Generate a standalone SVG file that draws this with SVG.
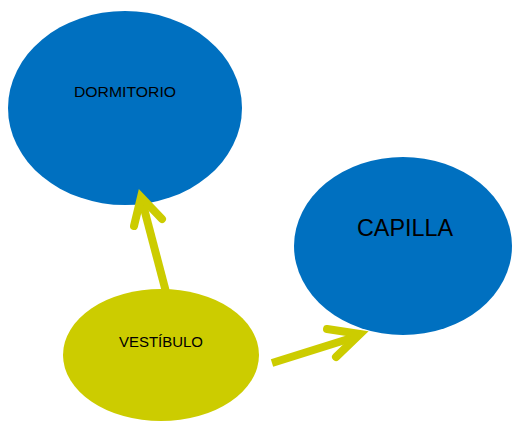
<svg xmlns="http://www.w3.org/2000/svg" width="512" height="421" viewBox="0 0 512 421">
<style>
.blue{fill:#0070C0}
.yel{fill:#CCCC00}
.lbl{font-family:"Liberation Sans",Arial,sans-serif;fill:#000;text-anchor:middle}
.arr{fill:none;stroke:#CCCC00;stroke-width:8}
</style>
<rect width="512" height="421" fill="#fff"/>
<g id="dormitorio">
<ellipse class="blue" cx="125" cy="108" rx="117" ry="97"/>
<text class="lbl" x="125" y="97" font-size="15" textLength="102" lengthAdjust="spacingAndGlyphs">DORMITORIO</text>
</g>
<g id="capilla">
<ellipse class="blue" cx="403" cy="246" rx="109" ry="89"/>
<text class="lbl" x="405" y="236" font-size="24" textLength="96" lengthAdjust="spacingAndGlyphs">CAPILLA</text>
</g>
<g id="vestibulo">
<ellipse class="yel" cx="161" cy="355" rx="98" ry="66"/>
<text class="lbl" x="161" y="347" font-size="15" textLength="84" lengthAdjust="spacingAndGlyphs">VESTÍBULO</text>
</g>
<g id="connectors">
<path class="arr" d="M166,292 L141,197"/>
<path class="arr" d="M134,226 L141,197 L162,219" stroke-linecap="round" stroke-linejoin="miter"/>
<path class="arr" d="M272,363 L358,336"/>
<path class="arr" d="M327,329 L360,334 L336,357" stroke-linecap="round" stroke-linejoin="miter"/>
</g>
</svg>
